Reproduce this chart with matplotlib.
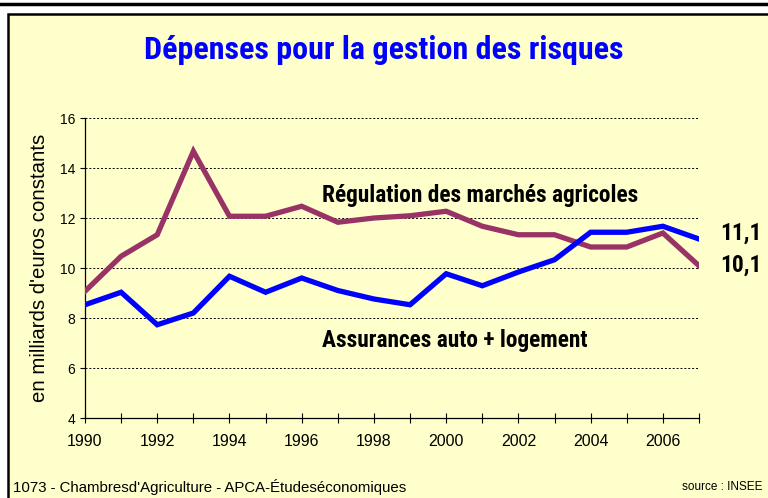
import numpy as np
import matplotlib.pyplot as plt
from matplotlib.patches import Rectangle
from matplotlib.lines import Line2D

years = list(range(1990, 2008))
assurances = [8.53, 9.03, 7.73, 8.2, 9.67, 9.03, 9.6, 9.1, 8.76, 8.53,
              9.77, 9.29, 9.84, 10.33, 11.43, 11.43, 11.67, 11.16]
regulation = [9.07, 10.47, 11.33, 14.67, 12.07, 12.07, 12.47, 11.83, 12.0, 12.09,
              12.27, 11.67, 11.33, 11.33, 10.84, 10.84, 11.4, 10.09]
endLabels = ["11,1", "10,1"]

bg = "#FFFFCC"
narrow = ['Roboto Condensed', 'DejaVu Sans']
arial = ['Liberation Sans', 'DejaVu Sans']
plt.rcParams['font.family'] = narrow

fig = plt.figure(figsize=(7.68, 4.98), dpi=100)
fig.patch.set_facecolor("white")

# yellow frame with black border
fig.patches.append(Rectangle((8/768, -0.02), 1.0, 1 - 14/498 + 0.02, transform=fig.transFigure,
                             facecolor=bg, edgecolor="black", linewidth=1.8, zorder=0))
fig.lines.append(Line2D([0, 1], [1 - 4/498, 1 - 4/498], transform=fig.transFigure,
                        color="black", linewidth=2.5))

ax = fig.add_axes([85/768, 1 - 418/498, (699 - 85)/768, (418 - 118)/498])
ax.set_zorder(2)
ax.patch.set_alpha(0)

ax.plot(years, regulation, color="#993366", linewidth=3.8, solid_joinstyle="miter", zorder=3)
ax.plot(years, assurances, color="#0000FF", linewidth=3.8, solid_joinstyle="miter", zorder=4)

ax.set_xlim(1990, 2007)
ax.set_ylim(4, 16)
ax.set_yticks(range(4, 17, 2))
ax.set_xticks(years)
ax.set_xticklabels([str(y) if y % 2 == 0 and y < 2007 else "" for y in years], family=arial)
ax.set_yticklabels([str(v) for v in range(4, 17, 2)], family=arial)
ax.tick_params(axis="x", direction="inout", length=6.5, width=0.8, labelsize=11.5, pad=8)
ax.tick_params(axis="y", direction="out", length=3.6, width=0.8, labelsize=10, pad=3.5)
for s in ["top", "right"]:
    ax.spines[s].set_visible(False)
for s in ["left", "bottom"]:
    ax.spines[s].set_linewidth(0.9)
ax.grid(axis="y", color="black", linestyle=(0, (2, 2)), linewidth=0.7)
ax.set_axisbelow(True)

ax.set_ylabel("en milliards d'euros constants", fontsize=14.7, family=arial, labelpad=8)

ax.text(1996.55, 12.9, "Régulation des marchés agricoles", fontsize=16.8, fontweight="bold", ha="left", va="center")
ax.text(1996.55, 7.1, "Assurances auto + logement", fontsize=16.8, fontweight="bold", ha="left", va="center")
ax.text(2007.6, assurances[-1] + 0.25, endLabels[0], fontsize=16.8, fontweight="bold", ha="left", va="center", clip_on=False)
ax.text(2007.6, regulation[-1], endLabels[1], fontsize=16.8, fontweight="bold", ha="left", va="center", clip_on=False)

fig.text(0.5, 1 - 50/498, "Dépenses pour la gestion des risques", color="#0000FF",
         fontsize=23, fontweight="bold", ha="center", va="center")
fig.text(13/768, 1 - 487/498, "1073 - Chambresd'Agriculture - APCA-Étudeséconomiques", fontsize=10.8,
         family=arial, ha="left", va="center")
fig.text(763/768, 1 - 487/498, "source : INSEE", fontsize=8.5, family=arial, ha="right", va="center")

fig.savefig("out.png", dpi=100, facecolor=fig.get_facecolor())
